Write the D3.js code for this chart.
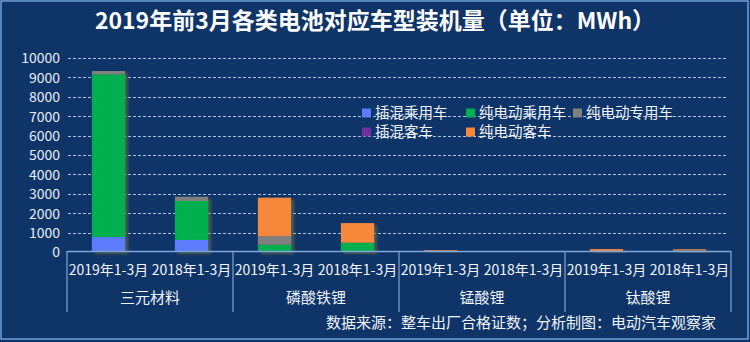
<!DOCTYPE html>
<html>
<head>
<meta charset="utf-8">
<script src="https://cdn.jsdelivr.net/npm/d3@7/dist/d3.min.js"></script>
<style>
  html, body { margin: 0; padding: 0; background: #0e3468; }
  svg { display: block; }
</style>
</head>
<body>
<svg id="chart" width="750" height="342"></svg>
<script>
// Battery chemistries (outer groups) and periods (inner categories)
const groups = ["三元材料", "磷酸铁锂", "锰酸锂", "钛酸锂"];
const periods = ["2019年1-3月", "2018年1-3月"];

// Installed capacity in MWh, ordered group by group, 2019 then 2018
const seriesNames = ["插混乘用车", "纯电动乘用车", "纯电动专用车", "插混客车", "纯电动客车"];
const phevPassenger = [770, 620, 0, 0, 0, 0, 0, 0];
const evPassenger   = [8390, 2010, 380, 480, 0, 0, 0, 0];
const evSpecial     = [170, 220, 440, 0, 40, 5, 20, 90];
const phevBus       = [0, 0, 0, 0, 0, 0, 0, 0];
const evBus         = [0, 0, 1980, 1010, 50, 5, 130, 50];
const seriesColors  = ["#5b7cfb", "#00b050", "#808080", "#7030a0", "#f7883b"];

const yTicks = [0, 1000, 2000, 3000, 4000, 5000, 6000, 7000, 8000, 9000, 10000];

const titleText = "2019年前3月各类电池对应车型装机量（单位：MWh）";
const sourceText = "数据来源：整车出厂合格证数；分析制图：电动汽车观察家";

const font = "'Noto Sans CJK SC', 'Noto Sans', sans-serif";
const svg = d3.select("#chart");
const W = 750, H = 342;

// Background and frame
svg.append("rect").attr("x", 0).attr("y", 0).attr("width", W).attr("height", H).attr("fill", "#0e3468");
svg.append("rect").attr("x", 1).attr("y", 1).attr("width", W - 3).attr("height", H - 4)
  .attr("fill", "none").attr("stroke", "#6f9fd6").attr("stroke-width", 1.5);

const defs = svg.append("defs");
const shadow = defs.append("filter").attr("id", "barShadow")
  .attr("x", "-20%").attr("y", "-5%").attr("width", "150%").attr("height", "115%");
shadow.append("feDropShadow").attr("dx", 3).attr("dy", 2).attr("stdDeviation", 1.5)
  .attr("flood-color", "#7a7a3a").attr("flood-opacity", 0.55);

// Title
svg.append("text").attr("x", 375).attr("y", 29).attr("text-anchor", "middle")
  .attr("font-family", font).attr("font-weight", "bold").attr("font-size", 23)
  .attr("fill", "#ffffff").text(titleText);

// Scales
const left = 67, right = 731, baseY = 252, topY = 58;
const y = d3.scaleLinear().domain([0, 10000]).range([baseY, topY]);
const xGroup = d3.scaleBand().domain(groups).range([left, right]);
const xPeriod = d3.scaleBand().domain(periods).range([0, xGroup.bandwidth()]).paddingInner(0.6).paddingOuter(0.3);

// Gridlines
svg.append("g").selectAll("line").data(yTicks.filter(d => d > 0)).join("line")
  .attr("x1", left + 1).attr("x2", right - 3)
  .attr("y1", d => Math.round(y(d)) + 0.5).attr("y2", d => Math.round(y(d)) + 0.5)
  .attr("stroke", "#a8c2e6").attr("stroke-width", 1).attr("stroke-dasharray", "3,2");

// Y axis labels (axis line itself is hidden)
const yAxis = d3.axisLeft(y).tickValues(yTicks).tickSize(0).tickPadding(0).tickFormat(d3.format("d"));
const yg = svg.append("g").attr("transform", `translate(${left - 7},0)`).call(yAxis);
yg.select(".domain").remove();
yg.selectAll("text").attr("font-family", font).attr("font-size", 14).attr("fill", "#e8eef8").attr("dy", "0.35em");

// Stacked data
const rows = [];
groups.forEach((g, gi) => periods.forEach((p, pi) => {
  const i = gi * periods.length + pi;
  rows.push({ group: g, period: p, vals: [phevPassenger[i], evPassenger[i], evSpecial[i], phevBus[i], evBus[i]] });
}));
const stackRows = rows.map(r => {
  const o = { group: r.group, period: r.period };
  seriesNames.forEach((s, k) => o[s] = r.vals[k]);
  return o;
});
const stacked = d3.stack().keys(seriesNames)(stackRows);

const barsG = svg.append("g");
rows.forEach((r, ri) => {
  const x0 = xGroup(r.group) + xPeriod(r.period);
  const bg = barsG.append("g").attr("filter", "url(#barShadow)");
  stacked.forEach((layer, k) => {
    const seg = layer[ri];
    if (seg[1] - seg[0] <= 0) return;
    bg.append("rect")
      .attr("x", x0).attr("width", xPeriod.bandwidth())
      .attr("y", y(seg[1])).attr("height", y(seg[0]) - y(seg[1]))
      .attr("fill", seriesColors[k]);
  });
});

// Category axis: baseline, separators, period labels, group labels
const axisColor = "#7ea6d8";
svg.append("line").attr("x1", left).attr("x2", right).attr("y1", 251.5).attr("y2", 251.5)
  .attr("stroke", axisColor).attr("stroke-width", 1.5);
const seps = groups.map(g => xGroup(g)).concat([right]);
svg.append("g").selectAll("line").data(seps).join("line")
  .attr("x1", d => d).attr("x2", d => d).attr("y1", 251).attr("y2", 312)
  .attr("stroke", axisColor).attr("stroke-width", 1.2);

const lab = svg.append("g");
groups.forEach(g => {
  periods.forEach(p => {
    lab.append("text").attr("x", xGroup(g) + (xPeriod(p) + xPeriod.bandwidth() / 2)).attr("y", 275)
      .attr("text-anchor", "middle").attr("font-family", font).attr("font-size", 14)
      .attr("fill", "#f2f5fb").text(p);
  });
  lab.append("text").attr("x", xGroup(g) + xGroup.bandwidth() / 2).attr("y", 303)
    .attr("text-anchor", "middle").attr("font-family", font).attr("font-size", 15)
    .attr("fill", "#f2f5fb").text(g);
});

// Source note
svg.append("text").attr("x", 716).attr("y", 328).attr("text-anchor", "end")
  .attr("font-family", font).attr("font-size", 15).attr("fill", "#f2f5fb").text(sourceText);

// Legend
const legendPos = [[362, 113], [466, 113], [573, 113], [362, 132], [466, 132]];
const lg = svg.append("g");
seriesNames.forEach((s, k) => {
  const [lx, ly] = legendPos[k];
  lg.append("rect").attr("x", lx).attr("y", ly - 4.5).attr("width", 9).attr("height", 9).attr("fill", seriesColors[k]);
  lg.append("text").attr("x", lx + 13).attr("y", ly).attr("dy", "0.35em")
    .attr("font-family", font).attr("font-size", 14.5).attr("fill", "#f2f5fb").text(s);
});
</script>
</body>
</html>
